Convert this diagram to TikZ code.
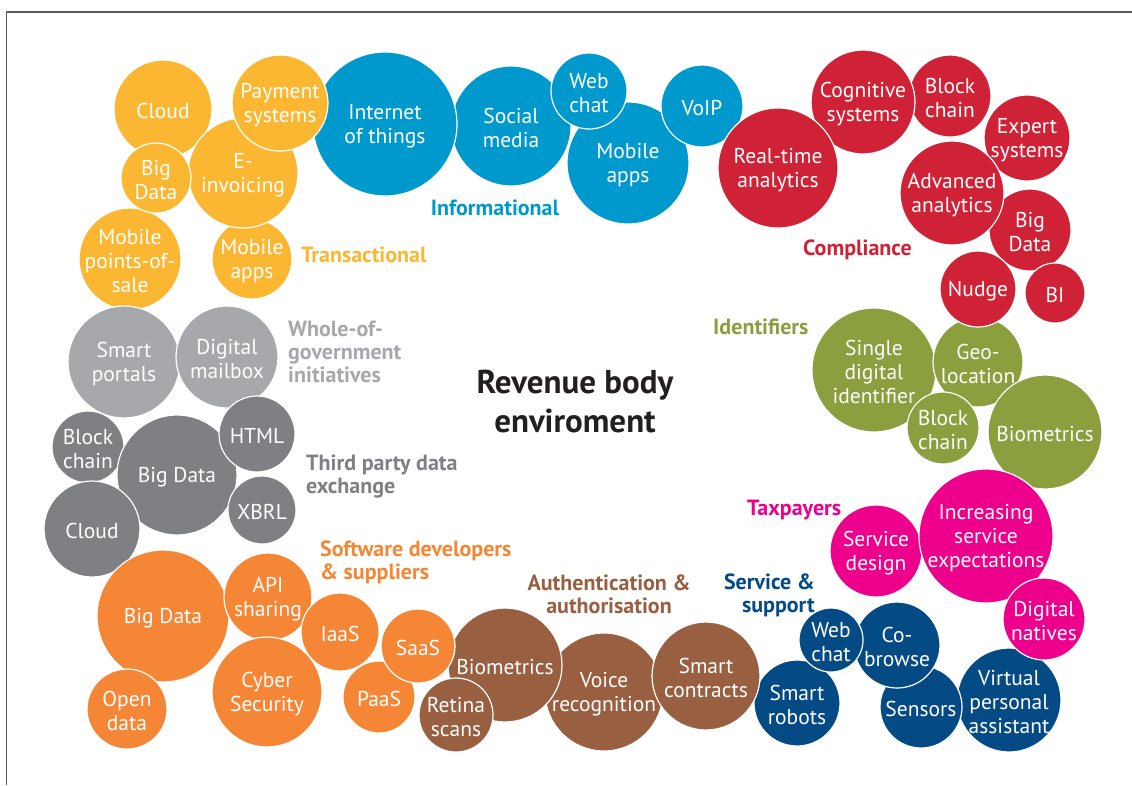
\documentclass[tikz,border=0pt]{standalone}
\usepackage{fontspec}
\setmainfont{PT Sans}
\definecolor{cyel}{HTML}{FBB731}
\definecolor{cblu}{HTML}{0099CD}
\definecolor{cred}{HTML}{D02236}
\definecolor{cgrn}{HTML}{8B9F3E}
\definecolor{cmag}{HTML}{EC008C}
\definecolor{cnav}{HTML}{044A85}
\definecolor{cbrn}{HTML}{985F41}
\definecolor{corg}{HTML}{F58635}
\definecolor{clgr}{HTML}{A7A8AB}
\definecolor{cdgr}{HTML}{7F8084}
\definecolor{ctit}{HTML}{231F20}
\definecolor{cfrm}{HTML}{5A5B5D}
\newcommand\bub[6]{%
  \fill[#2, draw=white, line width=1.2pt] (#3,#4) circle[radius=#5pt];
  \node[bubtext] (#1) at (#3,#4) {#6};}
\tikzset{
  bubtext/.style={text=white, align=center, inner sep=0pt, yshift=-2pt, font=\fontsize{21.5}{24}\selectfont},
  grplabel/.style={inner sep=0pt, font=\fontsize{22}{23}\selectfont\bfseries},
  frame/.style={draw=cfrm, line width=1.5pt}
}
\begin{document}
\begin{tikzpicture}[x=1pt,y=-1pt]
\useasboundingbox (0,0) rectangle (1132,785);
\coordinate (ftl) at (6.5,12);
\coordinate (ftr) at (1132,12);
\coordinate (fbl) at (6.5,785);
\draw[frame] (ftr) -- (ftl) -- (fbl);
% Informational (blue)
\bub{bmob}{cblu}{628}{163}{61}{Mobile\\apps}
\bub{bsoc}{cblu}{511}{126}{60}{Social\\media}
\bub{biot}{cblu}{385}{124}{72}{Internet\\of things}
\bub{bweb}{cblu}{589}{91}{38}{Web\\chat}
\bub{bvoi}{cblu}{702}{106}{41}{VoIP}
% Transactional (yellow)
\bub{ycld}{cyel}{163}{109}{49}{Cloud}
\bub{ypos}{cyel}{130}{259}{51}{Mobile\\points-of-\\sale}
\bub{yapp}{cyel}{252}{259}{40}{Mobile\\apps}
\bub{yinv}{cyel}{243}{173}{55}{E-\\invoicing}
\bub{ybig}{cyel}{156}{178}{35}{Big\\Data}
\bub{ypay}{cyel}{280}{103}{48}{Payment\\systems}
% Compliance (red)
\bub{rblk}{cred}{950}{96}{41}{Block\\chain}
\bub{rcog}{cred}{863}{102}{52}{Cognitive\\systems}
\bub{rrta}{cred}{778}{168}{60}{Real-time\\analytics}
\bub{rexp}{cred}{1027}{138}{43}{Expert\\systems}
\bub{rbig}{cred}{1030}{230}{41}{Big\\Data}
\bub{radv}{cred}{952}{193}{52}{Advanced\\analytics}
\bub{rbi}{cred}{1055}{293}{30}{BI}
% Identifiers (green)
\bub{gsdi}{cgrn}{874}{370}{62}{Single\\digital\\identifier}
\bub{ggeo}{cgrn}{978}{362}{45}{Geo-\\location}
\bub{gbio}{cgrn}{1045}{432}{57}{Biometrics}
\bub{gblk}{cgrn}{943}{428}{36}{Block\\chain}
\bub{rnud}{cred}{978}{289}{38}{Nudge}
% Taxpayers (magenta)
\bub{msvd}{cmag}{876}{551}{46}{Service\\design}
\bub{minc}{cmag}{986}{536}{67}{Increasing\\service\\expectations}
% Service & support (navy)
\bub{nvpa}{cnav}{1009}{700}{52}{Virtual\\personal\\assistant}
\bub{mdig}{cmag}{1044}{619}{41}{Digital\\natives}
\bub{nrob}{cnav}{797}{703}{43}{Smart\\robots}
\bub{nsen}{cnav}{921}{707}{41}{Sensors}
\bub{ncob}{cnav}{897}{645}{43}{Co-\\browse}
\bub{nweb}{cnav}{831}{640}{32}{Web\\chat}
% Whole-of-government / Third party (gray)
\bub{lprt}{clgr}{124}{362}{56}{Smart\\portals}
\bub{lmbx}{clgr}{227}{357}{51}{Digital\\mailbox}
\bub{dblk}{cdgr}{88}{447}{36}{Block\\chain}
\bub{dbig}{cdgr}{177}{475}{60}{Big Data}
\bub{dcld}{cdgr}{92}{529}{48}{Cloud}
\bub{dhtm}{cdgr}{257}{434}{38}{HTML}
\bub{dxbr}{cdgr}{262}{510}{34}{XBRL}
% Software developers (orange)
\bub{obig}{corg}{163}{616}{66}{Big Data}
\bub{oapi}{corg}{268}{597}{44}{API\\sharing}
\bub{oiaa}{corg}{340}{632}{39}{IaaS}
\bub{ocyb}{corg}{267}{692}{55}{Cyber\\Security}
\bub{oopn}{corg}{127}{709}{40}{Open\\data}
\bub{opaa}{corg}{379}{697}{36}{PaaS}
% Authentication (brown)
\bub{wvoi}{cbrn}{604}{692}{59}{Voice\\recognition}
\bub{wsmc}{cbrn}{706}{676}{54}{Smart\\contracts}
\bub{wbio}{cbrn}{505}{665}{57}{Biometrics}
\bub{wret}{cbrn}{456}{715}{37}{Retina\\scans}
\bub{osaa}{corg}{418}{646}{37}{SaaS}
% group labels (base anchor = baseline of last line)
\node[grplabel, text=cyel, anchor=base west] (ltra) at (301,262) {Transactional};
\node[grplabel, text=cblu, anchor=base] (linf) at (495,215) {Informational};
\node[grplabel, text=cred, anchor=base west] (lcom) at (803,255) {Compliance};
\node[grplabel, text=cgrn, anchor=base west] (lide) at (713,334) {Identifiers};
\node[grplabel, text=clgr, anchor=base west, align=left] (lwho) at (288,382) {Whole-of-\\government\\initiatives};
\node[grplabel, text=cdgr, anchor=base west, align=left] (lthi) at (306,493) {Third party data\\exchange};
\node[grplabel, text=corg, anchor=base west, align=left] (lsof) at (320,579) {Software developers\\\& suppliers};
\node[grplabel, text=cbrn, anchor=base, align=center] (laut) at (609,613) {Authentication \&\\authorisation};
\node[grplabel, text=cnav, anchor=base east, align=right] (lser) at (815,612) {Service \&\\support};
\node[grplabel, text=cmag, anchor=base west] (ltax) at (747,515) {Taxpayers};
\node[inner sep=0pt, text=ctit, align=center, font=\fontsize{33}{39}\selectfont\bfseries, anchor=base] (title) at (575,432) {Revenue body\\enviroment};
\end{tikzpicture}
\end{document}
